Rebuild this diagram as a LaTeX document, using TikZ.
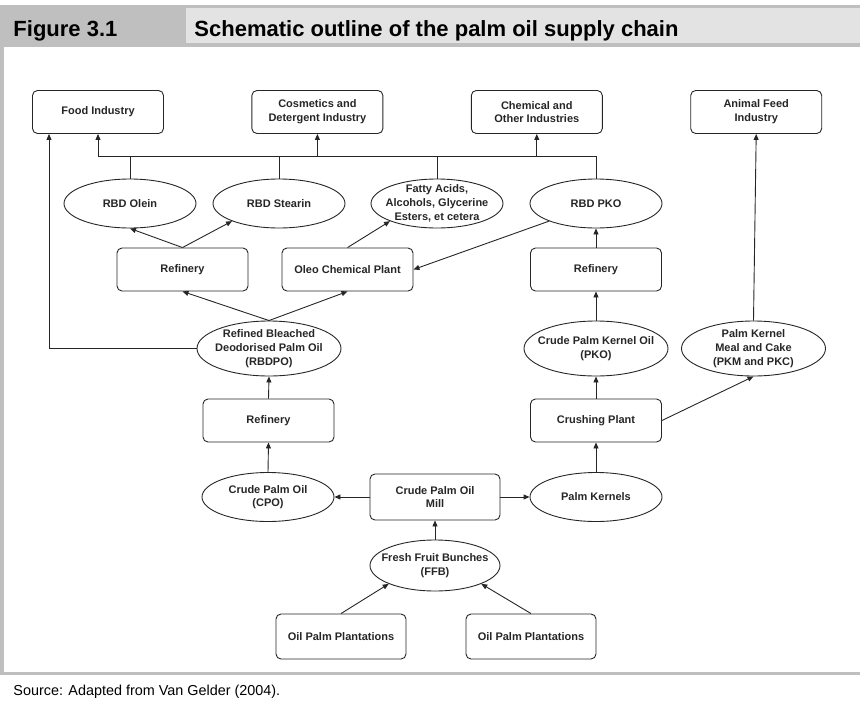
\documentclass[tikz,border=0pt]{standalone}
\usepackage{fontspec}
\setmainfont{Liberation Sans}
\usetikzlibrary{positioning,shapes.geometric,arrows.meta}

\begin{document}
\begin{tikzpicture}[
                x=1pt, y=-1pt,
                node distance=87.5pt,
                line width=0.9pt,
                color=black!85,
                every node/.append style={font=\bfseries\fontsize{11}{13.7}\selectfont, align=center},
                box/.style={draw, rectangle, rounded corners=5pt, minimum width=131pt, minimum height=43pt, inner sep=2pt},
                oval/.style={draw, ellipse, minimum width=132pt, minimum height=49pt, inner xsep=-20pt, inner ysep=-8pt},
                bigoval/.style={oval, minimum width=144pt, minimum height=55pt},
                plain/.style={inner sep=0pt, anchor=base west, text=black},
                arr/.style={-{Triangle[length=6pt,width=5pt]}}
            ]
                \useasboundingbox (0,0) rectangle (860,702);
                \fill[black!25] (0,5) rectangle (860,47);
                \fill[black!11] (186,8) rectangle (860,43);
                \fill[black!25] (0,47) rectangle (4,675);
                \fill[black!25] (0,672) rectangle (860,675);
                \node[plain, font=\bfseries\fontsize{22}{22}\selectfont] (fig) at (13,36) {Figure 3.1};
                \node[plain, font=\bfseries\fontsize{22}{22}\selectfont] (title) at (194,36) {Schematic outline of the palm oil supply chain};
                \node[plain, font=\fontsize{14.4}{16}\selectfont] (src) at (13,695) {Source: Adapted from Van Gelder (2004).};

                \node[box] (food) at (98,112)     {Food Industry};
                \node[box, right=of food] (cosm)  {Cosmetics and\\Detergent Industry};
                \node[box, right=of cosm] (chem)  {Chemical and\\Other Industries};
                \node[box, right=of chem] (feed)  {Animal Feed\\Industry};

                \node[oval] (olein)   at (130,203.5) {RBD Olein};
                \node[oval] (stearin) at (279,203.5) {RBD Stearin};
                \node[oval] (fatty)   at (437,203.5) {Fatty Acids,\\Alcohols, Glycerine\\Esters, et cetera};
                \node[oval] (rbdpko)  at (596,203.5) {RBD PKO};

                \node[box] (ref1) at (182.5,269.5) {Refinery};
                \node[box] (oleo) at (347.5,269.5) {Oleo Chemical Plant};
                \node[box] (ref2) at (596,269.5)   {Refinery};

                \node[bigoval] (rbdpo) at (269,348.5)    {Refined Bleached\\Deodorised Palm Oil\\(RBDPO)};
                \node[bigoval] (cpko)  at (596,348.5)    {Crude Palm Kernel Oil\\(PKO)};
                \node[bigoval] (pkm)   at (753.5,348.5)  {Palm Kernel\\Meal and Cake\\(PKM and PKC)};

                \node[box] (ref3)  at (268.5,420.5) {Refinery};
                \node[box] (crush) at (596,420.5)   {Crushing Plant};

                \node[oval] (cpo)  at (268,497) {Crude Palm Oil\\(CPO)};
                \node[box, minimum width=130pt, minimum height=46pt] (mill) at (435,497) {Crude Palm Oil\\Mill};
                \node[oval] (pk)   at (596,497) {Palm Kernels};

                \node[oval, minimum width=130pt, minimum height=51pt] (ffb) at (435,565.5) {Fresh Fruit Bunches\\(FFB)};

                \node[box, minimum width=130pt, minimum height=45pt] (plant1) at (341,636.5) {Oil Palm Plantations};
                \node[box, minimum width=130pt, minimum height=45pt] (plant2) at (531,636.5) {Oil Palm Plantations};

                \coordinate (bus) at (0,156);
                \draw (food.south |- bus) -- (rbdpko.north |- bus);
                \foreach \n in {olein,stearin,fatty,rbdpko}
                    \draw (\n.north) -- (\n.north |- bus);
                \foreach \n in {food,cosm,chem}
                    \draw[arr] (\n.south |- bus) -- (\n.south);
                \draw[arr] (rbdpo.west) -| ([xshift=-49pt]food.south);

                \draw[arr] (ref1.north) -- (olein.south);
                \draw[arr] (ref1.north) -- (stearin.south west);
                \draw[arr] (oleo.north) -- (fatty.south west);
                \draw[arr] (rbdpko.south west) -- (oleo.east);
                \draw[arr] (rbdpo.north) -- (ref1.south);
                \draw[arr] (rbdpo.north) -- (oleo.south);
                \draw[arr] (ref3.north) -- (rbdpo.south);
                \draw[arr] (cpo.north) -- (ref3.south);
                \draw[arr] (mill.west) -- (cpo.east);
                \draw[arr] (mill.east) -- (pk.west);
                \draw[arr] (ffb.north) -- (mill.south);
                \draw[arr] (plant1.north) -- (ffb.south west);
                \draw[arr] (plant2.north) -- (ffb.south east);
                \draw[arr] (pk.north) -- (crush.south);
                \draw[arr] (crush.north) -- (cpko.south);
                \draw[arr] (cpko.north) -- (ref2.south);
                \draw[arr] (ref2.north) -- (rbdpko.south);
                \draw[arr] (crush.east) -- (pkm.south);
                \draw[arr] (pkm.north) -- (feed.south);
            \end{tikzpicture}
\end{document}
